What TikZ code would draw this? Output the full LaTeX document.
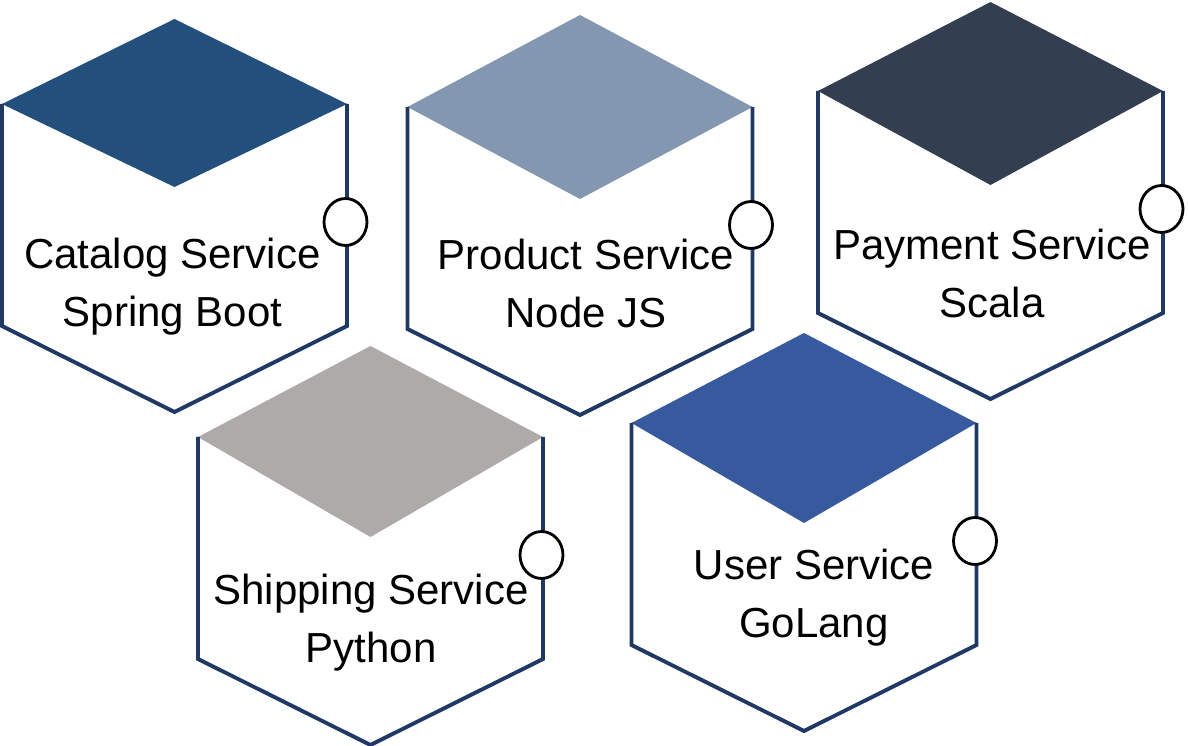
\documentclass[tikz,border=0pt]{standalone}
\usepackage{fontspec}
\setmainfont{Liberation Sans}
\usetikzlibrary{shapes.geometric}

\definecolor{catalogtop}{RGB}{35,79,124}
\definecolor{producttop}{RGB}{132,151,176}
\definecolor{paymenttop}{RGB}{51,63,80}
\definecolor{shippingtop}{RGB}{174,170,170}
\definecolor{usertop}{RGB}{55,90,158}
\definecolor{cubeline}{RGB}{32,56,100}

\tikzset{
  cubeside/.style={draw=cubeline, line width=2.2pt},
  port/.style={ellipse, draw=black, line width=1.6pt, fill=white,
    inner sep=0pt, minimum width=0.86cm, minimum height=0.94cm},
  servicetext/.style={font=\fontsize{23.9}{33.4}\selectfont, align=center,
    anchor=base, inner sep=0pt},
}

\begin{document}
\begin{tikzpicture}[x=0.02cm, y=-0.02cm]
\useasboundingbox (0,0) rectangle (1188,746);

% one cube per service: top face, outline, port
\foreach \name/\cx/\ty/\cy/\dy/\col/\lx/\ly/\lineone/\linetwo in {
    catalog/174.5/19/104/187/catalogtop/172.5/327/Catalog Service/Spring Boot,
    product/580/15/107/199/producttop/586/328/Product Service/Node JS,
    payment/990.5/2/91/185/paymenttop/992/318/Payment Service/Scala,
    shipping/370.5/346/437/537/shippingtop/371/663/Shipping Service/Python,
    user/804/333/423/523/usertop/814/638/User Service/GoLang}
{
  \fill[\col] (\cx,\ty) -- (\cx+172.5,\cy) -- (\cx,\dy) -- (\cx-172.5,\cy) -- cycle;
  \draw[cubeside] (\cx-172.5,\cy) -- (\cx-172.5,\cy+222) -- (\cx,\cy+308)
    -- (\cx+172.5,\cy+222) -- (\cx+172.5,\cy);
  \node[port] (\name-port) at (\cx+171,\cy+118) {};
  \node[servicetext] (\name) at (\lx,\ly) {\lineone\\\linetwo};
}

\end{tikzpicture}
\end{document}
